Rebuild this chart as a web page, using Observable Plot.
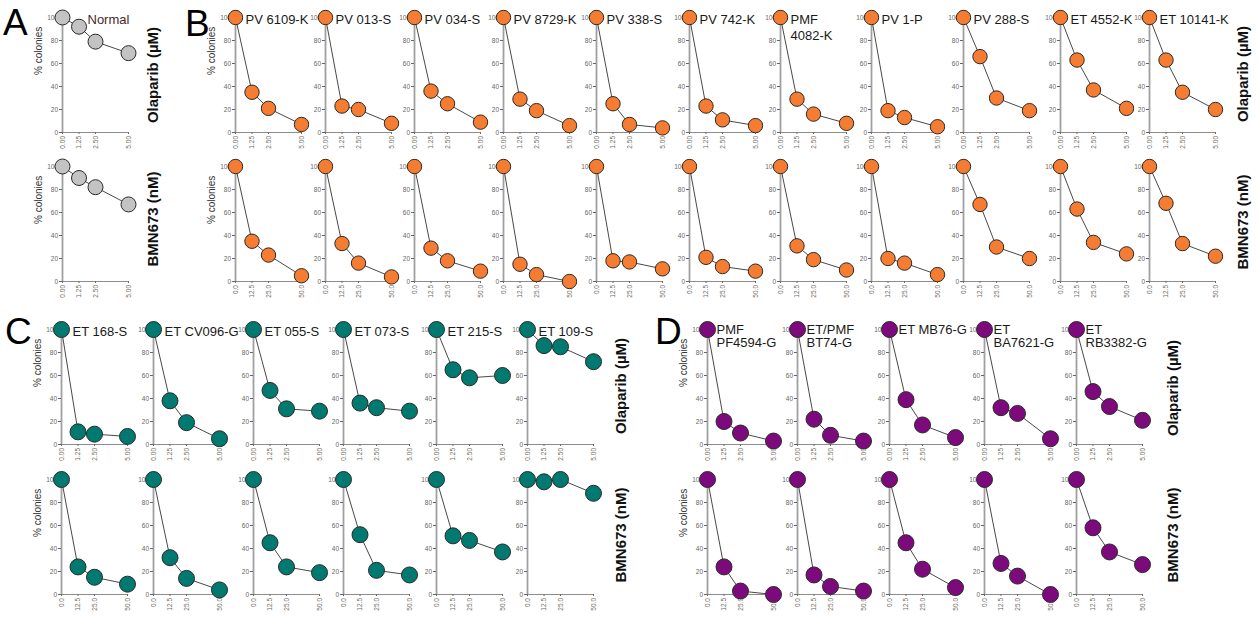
<!DOCTYPE html>
<html><head><meta charset="utf-8">
<script src="https://cdn.jsdelivr.net/npm/d3@7"></script>
<script src="https://cdn.jsdelivr.net/npm/@observablehq/plot@0.6"></script>
<style>
body{margin:0;background:#fff;}
#fig{position:relative;width:1260px;height:620px;overflow:hidden;font-family:"Liberation Sans",Arial,sans-serif;background:#fff;}
.letter{position:absolute;font-size:37px;line-height:1;color:#000;}
.rowlab{position:absolute;font-weight:bold;font-size:15px;line-height:1;transform:translate(-50%,-50%) rotate(-90deg);white-space:nowrap;color:#111;}
</style></head><body><div id="fig"></div>
<script>
// ---------- data ----------
const olaparibDoses = [0, 1.25, 2.5, 5];
const bmnDoses = [0, 12.5, 25, 50];
const olaparibTickLabels = ["0.00", "1.25", "2.50", "5.00"];
const bmnTickLabels = ["0.0", "12.5", "25.0", "50.0"];
const yTicks = [0, 20, 40, 60, 80, 100];
const yLabel = "% colonies";
const drugLabels = ["Olaparib (\u00b5M)", "BMN673 (nM)"];

const panelA_lines = ["Normal"];
const panelA_olaparib = [[100, 92, 79, 69]];
const panelA_bmn = [[100, 90, 82, 67]];

const panelB_lines = ["PV 6109-K", "PV 013-S", "PV 034-S", "PV 8729-K", "PV 338-S", "PV 742-K", "PMF\n4082-K", "PV 1-P", "PV 288-S", "ET 4552-K", "ET 10141-K"];
const panelB_olaparib = [
  [100, 35, 21, 7], [100, 23, 20, 8], [100, 36, 25, 9], [100, 29, 19, 6],
  [100, 25, 7, 4], [100, 23, 11, 6], [100, 29, 16, 8], [100, 19, 13, 5],
  [100, 66, 30, 19], [100, 63, 37, 21], [100, 63, 35, 20]
];
const panelB_bmn = [
  [100, 35, 23, 5], [100, 33, 16, 4], [100, 29, 18, 9], [100, 15, 6, 0],
  [100, 18, 17, 11], [100, 21, 13, 9], [100, 31, 19, 10], [100, 20, 16, 6],
  [100, 67, 30, 20], [100, 63, 34, 24], [100, 68, 33, 22]
];

const panelC_lines = ["ET 168-S", "ET CV096-G", "ET 055-S", "ET 073-S", "ET 215-S", "ET 109-S"];
const panelC_olaparib = [
  [100, 11, 9, 7], [100, 38, 19, 5], [100, 47, 31, 29],
  [100, 36, 32, 29], [100, 65, 58, 60], [100, 86, 85, 72]
];
const panelC_bmn = [
  [100, 24, 15, 9], [100, 32, 14, 4], [100, 45, 24, 19],
  [100, 52, 21, 17], [100, 51, 47, 37], [100, 98, 100, 88]
];

const panelD_lines = ["PMF\nPF4594-G", "ET/PMF\nBT74-G", "ET MB76-G", "ET\nBA7621-G", "ET\nRB3382-G"];
const panelD_olaparib = [
  [100, 20, 10, 3], [100, 22, 8, 3], [100, 39, 17, 6], [100, 32, 27, 5], [100, 46, 33, 21]
];
const panelD_bmn = [
  [100, 24, 3, 0], [100, 17, 7, 3], [100, 45, 22, 6], [100, 27, 16, 0], [100, 58, 37, 26]
];

// ---------- layout & style ----------
const panels = [
  {letter: "A", letterPos: [3, 4], lines: panelA_lines, ola: panelA_olaparib, bmn: panelA_bmn,
   rowDoses: [olaparibDoses, olaparibDoses], rowTicks: [olaparibTickLabels, olaparibTickLabels],
   cols: [62], rows: [17, 166], color: "#c3c3c3", r: 7.5, titleDx: 25, titleFill: "#4a2a2a", lineHeight: 1.2,
   drugX: 152, drugY: [75, 219]},
  {letter: "B", letterPos: [185, 5], lines: panelB_lines, ola: panelB_olaparib, bmn: panelB_bmn,
   rowDoses: [olaparibDoses, bmnDoses], rowTicks: [olaparibTickLabels, bmnTickLabels],
   cols: [235, 325, 414, 503, 596, 689, 780, 871, 963, 1060, 1149], rows: [17, 166], color: "#f57c30", r: 7.2, titleDx: 10, titleFill: "#1a1a1a", lineHeight: 1.25,
   drugX: 1242, drugY: [74, 222]},
  {letter: "C", letterPos: [5, 313], lines: panelC_lines, ola: panelC_olaparib, bmn: panelC_bmn,
   rowDoses: [olaparibDoses, bmnDoses], rowTicks: [olaparibTickLabels, bmnTickLabels],
   cols: [61, 153, 253, 343, 436, 527], rows: [329, 479], color: "#007a70", r: 8, titleDx: 11, titleFill: "#1a1a1a", lineHeight: 1.2,
   drugX: 620, drugY: [386, 535]},
  {letter: "D", letterPos: [655, 313], lines: panelD_lines, ola: panelD_olaparib, bmn: panelD_bmn,
   rowDoses: [olaparibDoses, bmnDoses], rowTicks: [olaparibTickLabels, bmnTickLabels],
   cols: [707, 797, 889, 984, 1076], rows: [329, 479], color: "#7d0a7d", r: 8, titleDx: 9, titleFill: "#1a1a1a", lineHeight: 1.0,
   drugX: 1172, drugY: [388, 535]}
];

const fig = document.getElementById("fig");
const W = 66, H = 115, ML = 34, MR = 14, MT = 14, MB = 30;
const FONT = "'Liberation Sans', Arial, sans-serif";

function smallPlot({doses, tickLabels, values, color, r, title, titleDx, titleFill, lineHeight, showYLabel, left, top}) {
  const data = doses.map((d, i) => ({dose: d, pct: values[i]}));
  const marks = [
    Plot.ruleX([0], {stroke: "#a0a0a0", strokeWidth: 1.8}),
    Plot.ruleY([0], {stroke: "#8c8c8c", strokeWidth: 1}),
    Plot.axisY({ticks: yTicks, tickSize: 3, tickPadding: 1.5, fontSize: 6.5, color: "#666", label: null}),
    Plot.axisX({ticks: doses, tickSize: 2, tickPadding: 1.5, fontSize: 6.5, tickRotate: -90, color: "#6e6a60", label: null,
      tickFormat: d => tickLabels[doses.indexOf(d)]}),
    Plot.line(data, {x: "dose", y: "pct", stroke: "#333", strokeWidth: 0.9}),
    Plot.dot(data, {x: "dose", y: "pct", r, fill: color, stroke: "#2a2a2a", strokeWidth: 1})
  ];
  if (title) marks.push(Plot.text([title], {frameAnchor: "top-left", text: d => d, dx: titleDx, dy: -5,
    lineAnchor: "top", textAnchor: "start", fontSize: 13, fill: titleFill, lineHeight}));
  if (showYLabel) marks.push(Plot.text([yLabel], {frameAnchor: "left", text: d => d, dx: -24, rotate: -90,
    fontSize: 10, fill: "#333"}));
  const svg = Plot.plot({
    width: ML + W + MR, height: MT + H + MB,
    marginLeft: ML, marginRight: MR, marginTop: MT, marginBottom: MB,
    x: {domain: [0, doses[doses.length - 1]]},
    y: {domain: [0, 100]},
    style: {overflow: "visible", background: "transparent", fontFamily: FONT},
    marks
  });
  svg.style.position = "absolute";
  svg.style.left = (left - ML) + "px";
  svg.style.top = (top - MT) + "px";
  svg.style.overflow = "visible";
  svg.style.background = "transparent";
  svg.style.maxWidth = "none";
  fig.appendChild(svg);
}

function addDiv(cls, text, left, top) {
  const d = document.createElement("div");
  d.className = cls;
  d.textContent = text;
  d.style.left = left + "px";
  d.style.top = top + "px";
  fig.appendChild(d);
}

for (const p of panels) {
  p.cols.forEach((cx, i) => {
    [p.ola, p.bmn].forEach((series, row) => {
      smallPlot({
        doses: p.rowDoses[row],
        tickLabels: p.rowTicks[row],
        values: series[i], color: p.color, r: p.r,
        title: row === 0 ? p.lines[i] : null,
        titleDx: p.titleDx, titleFill: p.titleFill, lineHeight: p.lineHeight,
        showYLabel: i === 0,
        left: cx, top: p.rows[row]
      });
    });
  });
  addDiv("letter", p.letter, p.letterPos[0], p.letterPos[1]);
  addDiv("rowlab", drugLabels[0], p.drugX, p.drugY[0]);
  addDiv("rowlab", drugLabels[1], p.drugX, p.drugY[1]);
}
</script></body></html>
